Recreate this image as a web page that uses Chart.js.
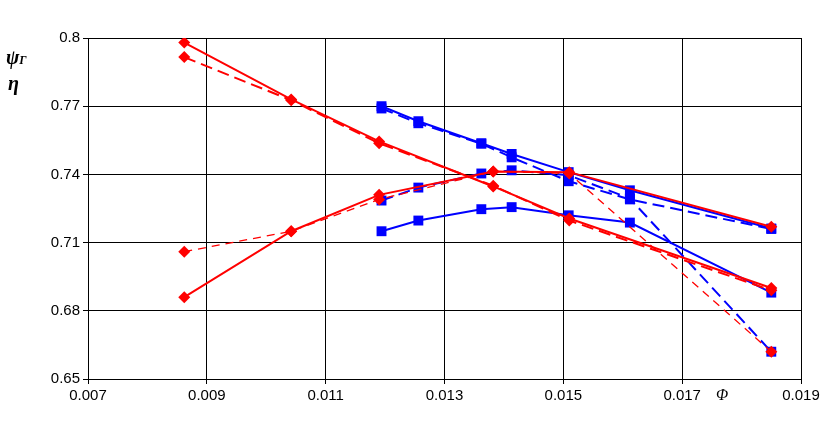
<!DOCTYPE html><html><head><script src="https://cdn.jsdelivr.net/npm/chart.js@4"></script>
<style>body{margin:0;background:#fff}#w{position:relative;width:829px;height:424px}
.l{position:absolute;font-family:"Times New Roman","Liberation Serif",serif;font-style:italic;font-weight:bold;font-size:20px}</style></head><body>
<div id="w"><canvas id="c" width="829" height="424"></canvas>
<div class="l" style="left:6px;top:46px">ψ<span style="font-size:12px">Γ</span></div>
<div class="l" style="left:8px;top:72px">η</div>
<div class="l" style="left:716px;top:386px;font-weight:normal;font-size:16px">Φ</div></div>
<script>
const redX=[0.00862,0.01042,0.0119,0.01382,0.0151,0.0185];
const redSolidUp=[0.798,0.773,0.7545,0.7347,0.7206,0.690];
const redDashUp=[0.7916,0.7726,0.7537,0.735,0.7197,0.689];
const redSolidLow=[0.686,0.715,0.731,0.7413,0.741,0.717];
const redDashLow=[0.706,0.715,0.729,0.7413,0.7404,0.662];
const blueX=[0.01194,0.01256,0.01362,0.01413,0.01509,0.01612,0.0185];
const blueSolidUp=[0.770,0.7634,0.7537,0.749,0.741,0.733,0.7162];
const blueDashUp=[0.769,0.7625,0.7535,0.7475,0.737,0.729,0.716];
const blueSolidLow=[0.715,0.7197,0.7247,0.7256,0.722,0.7188,0.688];
const blueDashMid=[0.7285,0.7342,0.7404,0.7418,0.7396,0.7294,0.662];
const pts=(xs,ys)=>xs.map((x,i)=>({x,y:ys[i]}));
const ds=(xs,ys,col,dash,shape,bw)=>({data:pts(xs,ys),borderColor:col,backgroundColor:col,borderWidth:bw||2,borderDash:dash?[12,6]:[],pointStyle:shape,pointRadius:shape==='rectRot'?6:7,pointBorderWidth:0,showLine:true,tension:0});
new Chart(document.getElementById('c'),{type:'scatter',data:{datasets:[
ds(redX,redSolidUp,'#ff0000',false,'rectRot'),ds(redX,redDashUp,'#ff0000',true,'rectRot'),
ds(redX,redSolidLow,'#ff0000',false,'rectRot'),{...ds(redX,redDashLow,'#ff0000',true,'rectRot',1.3),borderDash:[8,6]},
ds(blueX,blueSolidUp,'#0000ff',false,'rect'),ds(blueX,blueDashUp,'#0000ff',true,'rect'),
ds(blueX,blueSolidLow,'#0000ff',false,'rect'),ds(blueX,blueDashMid,'#0000ff',true,'rect')]},
options:{responsive:false,animation:false,layout:{padding:{left:10,right:28,top:38,bottom:16}},
plugins:{legend:{display:false},tooltip:{enabled:false}},
scales:{x:{type:'linear',min:0.007,max:0.019,border:{color:'#000'},grid:{color:'#000',drawTicks:true,tickLength:5},ticks:{stepSize:0.002,color:'#000',font:{family:'Liberation Sans',size:15},callback:v=>v.toFixed(3)}},
y:{min:0.65,max:0.8,border:{color:'#000'},grid:{color:'#000',tickLength:5},ticks:{stepSize:0.03,color:'#000',font:{family:'Liberation Sans',size:15},callback:v=>+v.toFixed(2)+''},afterFit(s){s.width=78}}}}});
</script></body></html>
